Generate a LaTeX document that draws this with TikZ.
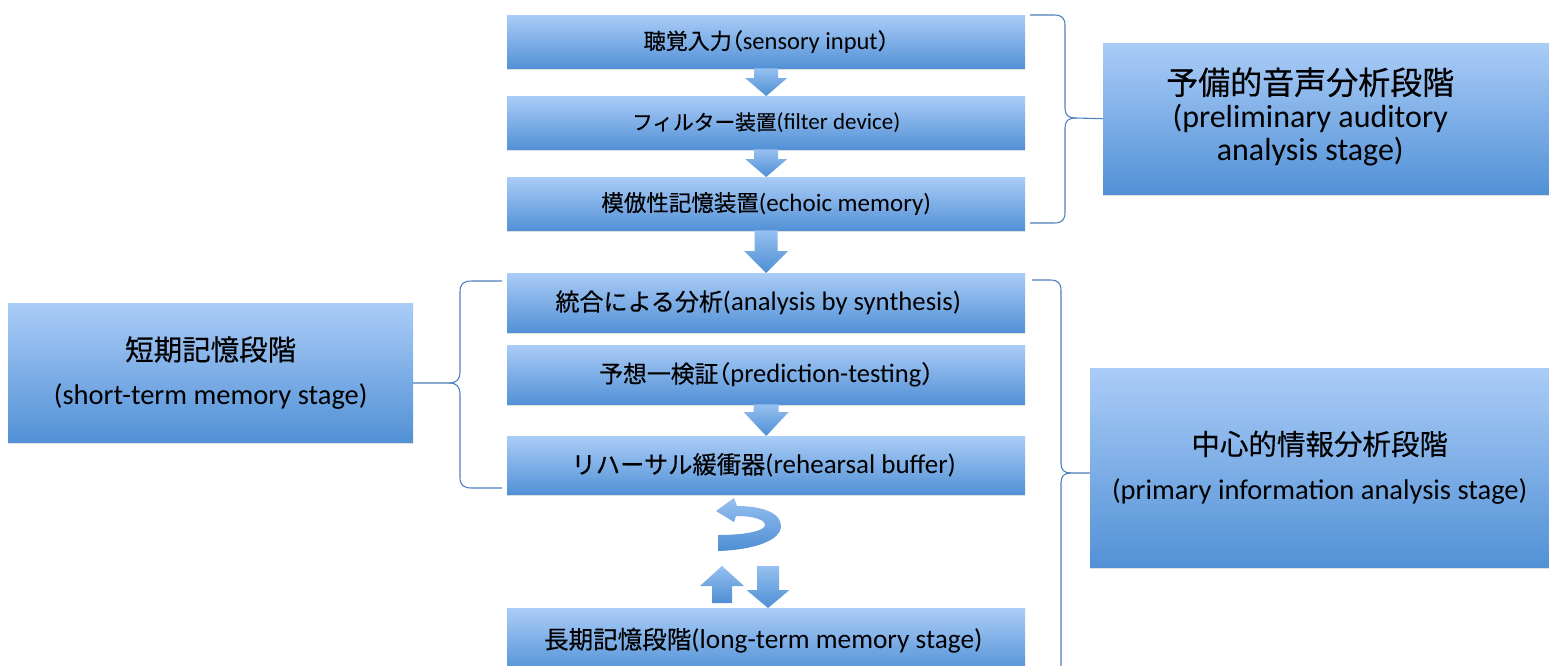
\documentclass[tikz,border=0pt]{standalone}
\usepackage{fontspec}
\setmainfont{Carlito}
\newfontfamily\jp[Scale=0.9,FakeBold=0.4]{Noto Sans CJK JP}
\newfontfamily\jpp[Scale=0.9,FakeBold=0.4,RawFeature=+halt]{Noto Sans CJK JP}
\newfontfamily\jpb[FakeBold=0.4]{Noto Sans CJK JP}
\usetikzlibrary{calc,shadows}

\definecolor{boxtop}{RGB}{170,204,247}
\definecolor{boxbot}{RGB}{82,145,214}
\definecolor{arrtop}{RGB}{150,192,240}
\definecolor{arrbot}{RGB}{78,142,212}
\definecolor{bracecol}{RGB}{79,129,189}

\tikzset{
  stagebox/.style={draw=none, top color=boxtop, bottom color=boxbot, inner sep=0pt,
    anchor=north west, align=center, text=black,
    drop shadow={shadow xshift=0pt, shadow yshift=-2pt, opacity=0.25}},
  colbox/.style={stagebox, minimum width=518pt},
  blockarr/.style={top color=arrtop, bottom color=arrbot, draw=none},
  bracket/.style={draw=bracecol, line width=1.1pt, line join=round},
}

% down block arrow: from, to, half shaft, half head, head length
\newcommand\dnarr[5]{%
  \path[blockarr] let \p1=(#1), \p2=(#2) in
  (\x1-#3,\y1) -- (\x1+#3,\y1) -- (\x1+#3,\y2+#5) -- (\x1+#4,\y2+#5) --
  (\x1,\y2) -- (\x1-#4,\y2+#5) -- (\x1-#3,\y2+#5) -- cycle;}
% up block arrow: base, tip, half shaft, half head, head length
\newcommand\uparr[5]{%
  \path[blockarr] let \p1=(#1), \p2=(#2) in
  (\x1-#3,\y1) -- (\x1+#3,\y1) -- (\x1+#3,\y2-#5) -- (\x1+#4,\y2-#5) --
  (\x1,\y2) -- (\x1-#4,\y2-#5) -- (\x1-#3,\y2-#5) -- cycle;}

\begin{document}
\begin{tikzpicture}[x=1pt,y=-1pt]
\fill[white] (0,0) rectangle (1549,665);
\useasboundingbox (0,0) rectangle (1549,665);

% centre column
\node[colbox, minimum height=53pt, font=\fontsize{24.5}{26}\selectfont] (b1) at (507,15)
  {{\jp 聴覚入力}{\jpp （}sensory input{\jpp ）}};
\node[colbox, minimum height=53pt, font=\fontsize{23}{25}\selectfont] (b2) at (507,96)
  {{\jp フィルター装置}(filter device)};
\node[colbox, minimum height=53pt, font=\fontsize{25}{27}\selectfont] (b3) at (507,177)
  {{\jp 模倣性記憶装置}(echoic memory)};
\node[colbox, minimum height=59pt, font=\fontsize{26.7}{28}\selectfont] (b4) at (507,273)
  {\hspace*{-16pt}{\jp 統合による分析}(analysis by synthesis)};
\node[colbox, minimum height=59pt, font=\fontsize{26.5}{28}\selectfont] (b5) at (507,345)
  {{\jp 予想一検証}{\jpp （}prediction-testing{\jpp ）}};
\node[colbox, minimum height=58pt, font=\fontsize{27}{29}\selectfont] (b6) at (507,436)
  {\hspace*{-5pt}{\jp リハーサル緩衝器}(rehearsal buffer)};
\node[colbox, minimum height=64pt, text depth=0pt, font=\fontsize{27.3}{29}\selectfont] (b7) at (507,608)
  {\raisebox{4pt}{\hspace*{-6pt}{\jp 長期記憶段階}(long-term memory stage)}};

% side boxes
\node[stagebox, minimum width=446pt, minimum height=151pt, font=\fontsize{32}{32}\selectfont] (pre) at (1103,43)
  {\begin{tabular}{@{}c@{}}{\jpb 予備的音声分析段階}\\(preliminary auditory\\analysis stage)\end{tabular}\hspace*{32pt}};
\node[stagebox, minimum width=405pt, minimum height=139pt, font=\fontsize{28.5}{44}\selectfont] (stm) at (8,303)
  {{\jpb 短期記憶段階}\\(short-term memory stage)};
\node[stagebox, minimum width=459pt, minimum height=199pt, font=\fontsize{28.5}{45}\selectfont] (pia) at (1090,368)
  {{\jpb 中心的情報分析段階}\\(primary information analysis stage)};

% block arrows
\dnarr{b1.south}{b2.north}{12pt}{21pt}{18pt}
\dnarr{b2.south}{b3.north}{12pt}{21pt}{18pt}
\dnarr{b3.south}{b4.north}{11.5pt}{22pt}{22pt}
\dnarr{b5.south}{b6.north}{12.5pt}{22.5pt}{24pt}

% loop arrow
\path[blockarr] (718,551) .. controls (752,550) and (781,541) .. (781,526)
  .. controls (781,512) and (760,506) .. (737,506) -- (734,498) -- (716,511)
  -- (734,522) -- (736,516) .. controls (755,516) and (765,520) .. (765,525)
  .. controls (765,531) and (745,535) .. (718,535) -- cycle;

\coordinate (upbase) at (722,603);
\coordinate (uptip) at (722,566);
\coordinate (dntop) at (768,566);
\uparr{upbase}{uptip}{10pt}{22pt}{20pt}
\dnarr{dntop}{b7.north}{11pt}{21.5pt}{18pt}

% brackets
\coordinate (t1) at (1030,15);
\coordinate (t2) at (1030,223);
\draw[bracket] (t1) -- (1054,15) .. controls (1062,15) and (1065,18) .. (1065,26)
  -- (1065,108) .. controls (1065,115) and (1068,118) .. (1076,118) -- (pre.west);
\draw[bracket] (1076,118) .. controls (1068,118) and (1065,121) .. (1065,128)
  -- (1065,212) .. controls (1065,220) and (1062,223) .. (1054,223) -- (t2);

\coordinate (l1) at (502,281);
\coordinate (l2) at (502,488);
\coordinate (ltip) at (413,383);
\draw[bracket] (l1) -- (472,281) .. controls (463,281) and (460,284) .. (460,292)
  -- (460,372) .. controls (460,379) and (457,383) .. (449,383) -- (ltip);
\draw[bracket] (449,383) .. controls (457,383) and (460,387) .. (460,394)
  -- (460,477) .. controls (460,485) and (463,488) .. (472,488) -- (l2);

\coordinate (r1) at (1032,280);
\coordinate (r2) at (1061,680);
\coordinate (rtip) at (1090,473);
\draw[bracket] (r1) -- (1050,280) .. controls (1058,280) and (1061,283) .. (1061,291)
  -- (1061,463) .. controls (1061,470) and (1064,473) .. (1071,473) -- (rtip);
\draw[bracket] (1071,473) .. controls (1064,473) and (1061,476) .. (1061,483) -- (r2);
\end{tikzpicture}
\end{document}
